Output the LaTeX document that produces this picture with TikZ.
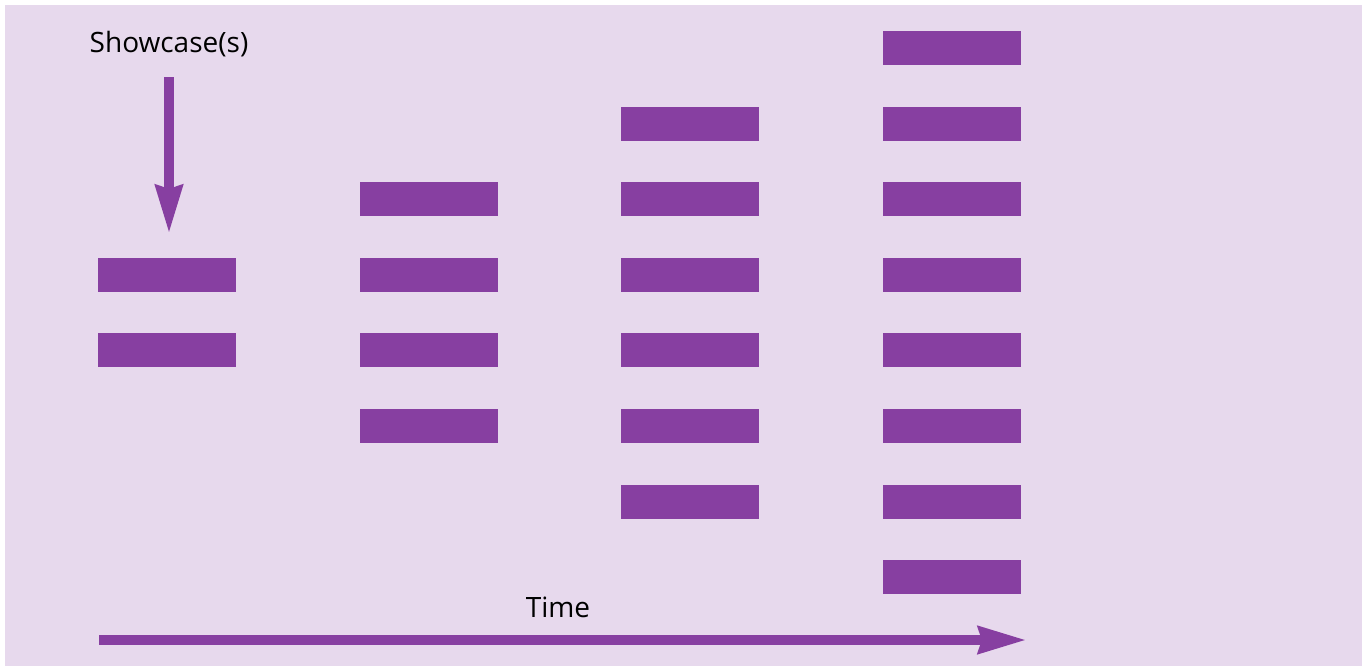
\documentclass[tikz,border=0pt]{standalone}
\usepackage{fontspec}
\setmainfont{Open Sans}
\usetikzlibrary{arrows.meta}
\definecolor{bgpurple}{RGB}{231,217,237}
\definecolor{barpurple}{RGB}{135,63,161}
\begin{document}
\begin{tikzpicture}[x=1pt,y=-1pt,
  bar/.style={fill=barpurple,draw=none,minimum width=138pt,minimum height=34pt,inner sep=0pt,anchor=north west},
  label/.style={font=\fontsize{28}{34}\selectfont,text=black,inner sep=0pt},
  bigarrow/.style={draw=barpurple,line width=10.5pt,-{Stealth[length=48pt,width=26pt,inset=3pt]}}]
  \useasboundingbox (0,0) rectangle (1362,669);
  \fill[white] (0,0) rectangle (1362,669);
  \fill[bgpurple] (5,5) rectangle (1362,666);
  % column 1
  \foreach \r/\y in {4/258,5/333} \node[bar] (c1r\r) at (98,\y) {};
  % column 2
  \foreach \r/\y in {3/182,4/258,5/333,6/409} \node[bar] (c2r\r) at (360,\y) {};
  % column 3
  \foreach \r/\y in {2/107,3/182,4/258,5/333,6/409,7/485} \node[bar] (c3r\r) at (621,\y) {};
  % column 4
  \foreach \r/\y in {1/31,2/107,3/182,4/258,5/333,6/409,7/485,8/560} \node[bar] (c4r\r) at (883,\y) {};
  % labels
  \node[label] (showcase) at (169,44) {Showcase(s)};
  \node[label] (time) at (558,607) {Time};
  % arrows
  \coordinate (sstart) at (169,77);
  \coordinate (send) at (169,234);
  \draw[bigarrow] (sstart) -- (send);
  \coordinate (tstart) at (99,640);
  \coordinate (tend) at (1027,640);
  \draw[bigarrow] (tstart) -- (tend);
\end{tikzpicture}
\end{document}
